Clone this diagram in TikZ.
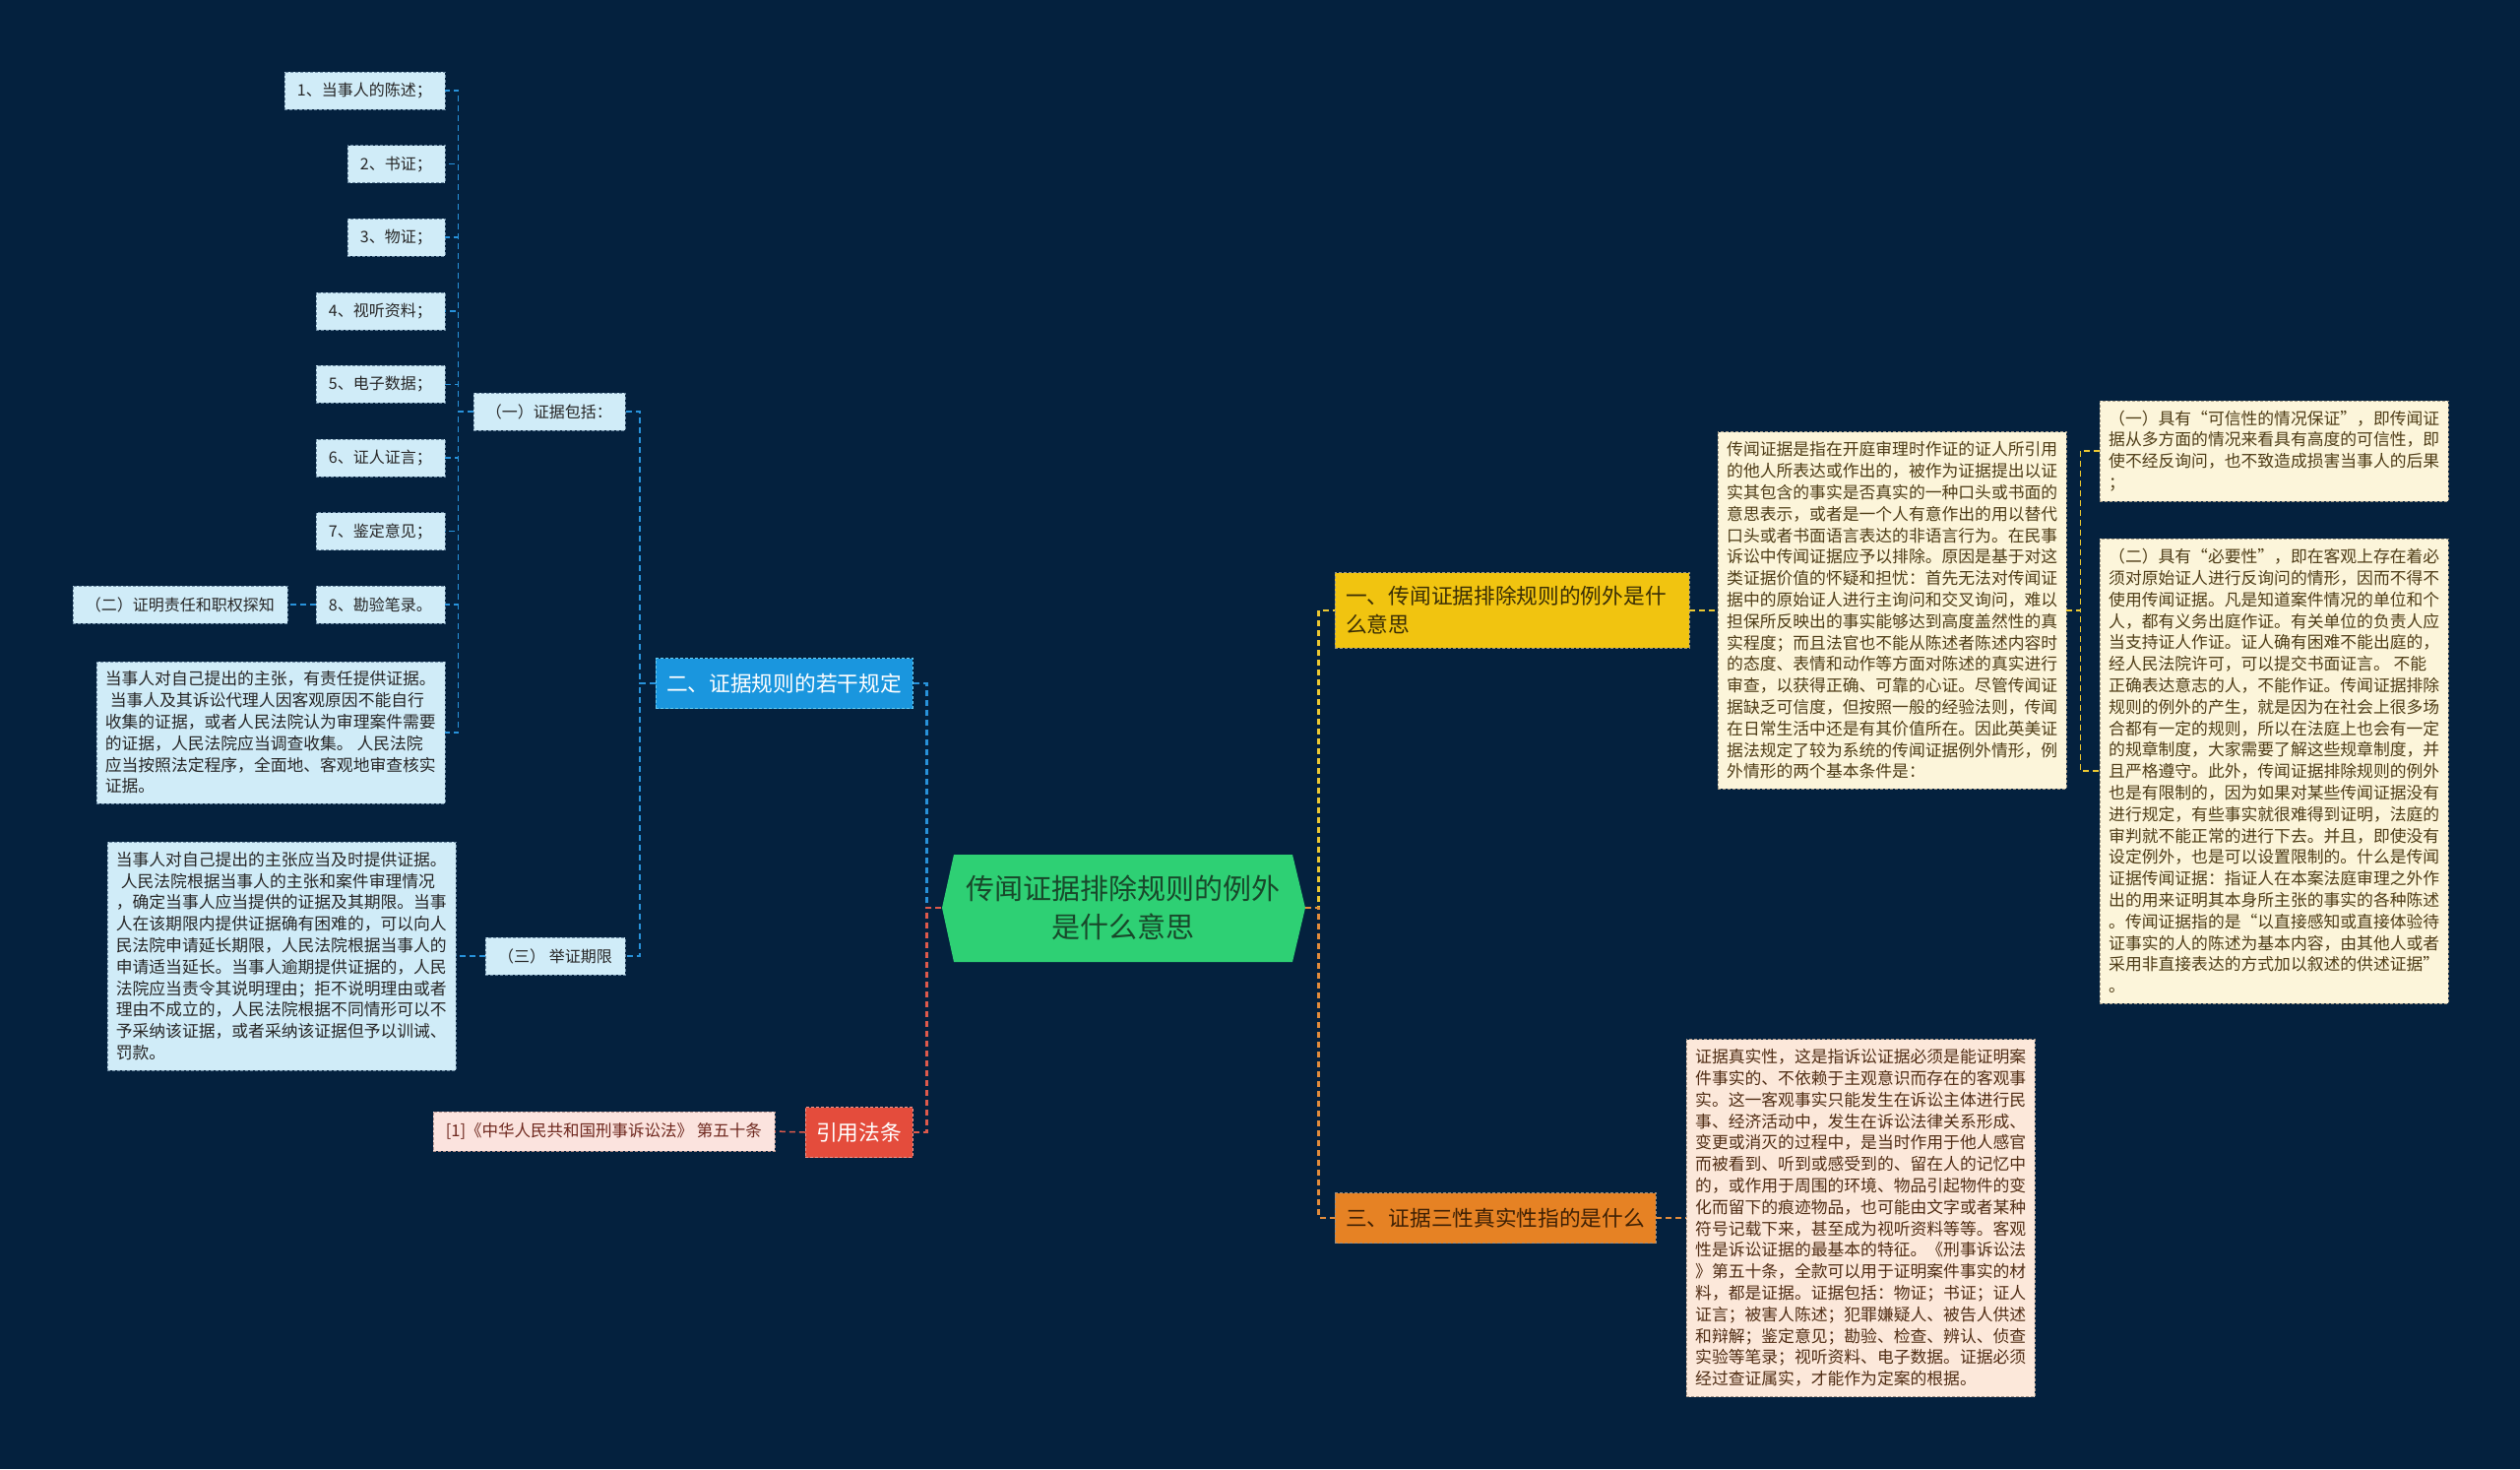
\documentclass[tikz,border=0pt]{standalone}
\usepackage{fontspec}
\setmainfont{Noto Sans CJK SC}
\usepackage{tikz}
\usetikzlibrary{positioning}
\definecolor{bgnavy}{RGB}{4,33,62}
\definecolor{leafblue}{RGB}{208,236,248}
\definecolor{leafedge}{RGB}{110,140,165}
\definecolor{linkblue}{RGB}{40,146,218}
\definecolor{branchblue}{RGB}{26,150,222}
\definecolor{rootgreen}{RGB}{46,208,116}
\definecolor{rootink}{RGB}{24,72,42}
\definecolor{lawred}{RGB}{228,76,60}
\definecolor{refpink}{RGB}{251,227,222}
\definecolor{refink}{RGB}{110,40,30}
\definecolor{oneyellow}{RGB}{241,196,16}
\definecolor{oneink}{RGB}{58,46,5}
\definecolor{creambox}{RGB}{252,245,218}
\definecolor{creamink}{RGB}{78,60,22}
\definecolor{threeorange}{RGB}{230,130,36}
\definecolor{threeink}{RGB}{62,32,4}
\definecolor{peachbox}{RGB}{252,232,218}
\definecolor{peachink}{RGB}{80,45,20}
\definecolor{linkyellow}{RGB}{236,200,50}
\definecolor{linkorange}{RGB}{226,140,60}
\definecolor{linkred}{RGB}{222,90,76}

\begin{document}
\begin{tikzpicture}[x=1pt,y=-1pt,
  leaf/.style={draw=leafedge,dash pattern=on 3pt off 2pt,fill=leafblue,text=black!85,
    font=\fontsize{16pt}{20pt}\selectfont,inner xsep=13pt,inner ysep=0pt,minimum height=38pt},
  leafnote/.style={draw=leafedge,dash pattern=on 3pt off 2pt,fill=leafblue,text=black!85,
    font=\fontsize{16.8pt}{21.8pt}\selectfont,align=left,inner xsep=9pt,inner ysep=10pt},
  creamnote/.style={leafnote,fill=creambox,draw=creamink!50,text=creamink},
  peachnote/.style={leafnote,fill=peachbox,draw=peachink!50,text=peachink},
  branch/.style={dash pattern=on 3pt off 2pt,font=\fontsize{21.7pt}{29pt}\selectfont,
    inner xsep=11pt,inner ysep=0pt,minimum height=51pt},
  sublink/.style={line width=1.5pt,dash pattern=on 6pt off 4pt},
  mainlink/.style={line width=2.5pt,dash pattern=on 6pt off 4pt}]
  \path[use as bounding box,fill=bgnavy] (0,0) rectangle (2560,1492);

  \fill[rootgreen] (969,868) -- (1313,868) -- (1326,922) -- (1313,977) -- (969,977) -- (957,922) -- cycle;
  \node[text=rootink,font=\fontsize{29pt}{39pt}\selectfont,align=center,
    minimum width=369pt,minimum height=109pt,inner sep=0pt] (root) at (1141,922)
    {传闻证据排除规则的例外\\是什么意思};

  \node[branch,fill=branchblue,draw=cyan!60,text=white,anchor=east] (two) at (927,694) {二、证据规则的若干规定};
  \node[leaf,anchor=east] (inc) at (635,418) {（一）证据包括：};
  \node[leaf,anchor=east] (term) at (635,971) {（三） 举证期限};
  \node[leaf,anchor=east] (b1) at (452,92) {1、当事人的陈述；};
  \node[leaf,anchor=east] (b2) at (452,166.6) {2、书证；};
  \node[leaf,anchor=east] (b3) at (452,241.2) {3、物证；};
  \node[leaf,anchor=east] (b4) at (452,315.8) {4、视听资料；};
  \node[leaf,anchor=east] (b5) at (452,390.4) {5、电子数据；};
  \node[leaf,anchor=east] (b6) at (452,465) {6、证人证言；};
  \node[leaf,anchor=east] (b7) at (452,539.6) {7、鉴定意见；};
  \node[leaf,anchor=east] (b8) at (452,614.2) {8、勘验笔录。};
  \node[leaf,anchor=east] (proof) at (292,614.2) {（二）证明责任和职权探知};
  \node[leafnote,anchor=east] (duty) at (452,744) {当事人对自己提出的主张，有责任提供证据。\\
    \hspace*{5pt}当事人及其诉讼代理人因客观原因不能自行\\
    收集的证据，或者人民法院认为审理案件需要\\
    的证据，人民法院应当调查收集。 人民法院\\
    应当按照法定程序，全面地、客观地审查核实\\
    证据。};
  \node[leafnote,anchor=east] (limit) at (463,971) {当事人对自己提出的主张应当及时提供证据。\\
    \hspace*{5pt}人民法院根据当事人的主张和案件审理情况\\
    ，确定当事人应当提供的证据及其期限。当事\\
    人在该期限内提供证据确有困难的，可以向人\\
    民法院申请延长期限，人民法院根据当事人的\\
    申请适当延长。当事人逾期提供证据的，人民\\
    法院应当责令其说明理由；拒不说明理由或者\\
    理由不成立的，人民法院根据不同情形可以不\\
    予采纳该证据，或者采纳该证据但予以训诫、\\
    罚款。};

  \node[branch,fill=lawred,draw=lawred!60!white,text=white,anchor=east] (law) at (927,1150) {引用法条};
  \node[leaf,fill=refpink,draw=refink!50,text=refink,font=\fontsize{16.5pt}{20pt}\selectfont,
    minimum height=40pt,anchor=east] (ref) at (787,1149) {[1]《中华人民共和国刑事诉讼法》 第五十条};

  \node[branch,fill=oneyellow,draw=oneink!50,text=oneink,align=left,text width=338pt,
    inner ysep=14pt,anchor=west] (one) at (1356,620) {一、传闻证据排除规则的例外是什\\么意思};
  \node[creamnote,anchor=west] (hearsay) at (1745,620) {传闻证据是指在开庭审理时作证的证人所引用\\
    的他人所表达或作出的，被作为证据提出以证\\
    实其包含的事实是否真实的一种口头或书面的\\
    意思表示，或者是一个人有意作出的用以替代\\
    口头或者书面语言表达的非语言行为。在民事\\
    诉讼中传闻证据应予以排除。原因是基于对这\\
    类证据价值的怀疑和担忧：首先无法对传闻证\\
    据中的原始证人进行主询问和交叉询问，难以\\
    担保所反映出的事实能够达到高度盖然性的真\\
    实程度；而且法官也不能从陈述者陈述内容时\\
    的态度、表情和动作等方面对陈述的真实进行\\
    审查，以获得正确、可靠的心证。尽管传闻证\\
    据缺乏可信度，但按照一般的经验法则，传闻\\
    在日常生活中还是有其价值所在。因此英美证\\
    据法规定了较为系统的传闻证据例外情形，例\\
    外情形的两个基本条件是：};
  \node[creamnote,anchor=west] (trust) at (2133,458) {（一）具有“可信性的情况保证”，即传闻证\\
    据从多方面的情况来看具有高度的可信性，即\\
    使不经反询问，也不致造成损害当事人的后果\\
    ；};
  \node[creamnote,anchor=west] (need) at (2133,783) {（二）具有“必要性”，即在客观上存在着必\\
    须对原始证人进行反询问的情形，因而不得不\\
    使用传闻证据。凡是知道案件情况的单位和个\\
    人，都有义务出庭作证。有关单位的负责人应\\
    当支持证人作证。证人确有困难不能出庭的，\\
    经人民法院许可，可以提交书面证言。 不能\\
    正确表达意志的人，不能作证。传闻证据排除\\
    规则的例外的产生，就是因为在社会上很多场\\
    合都有一定的规则，所以在法庭上也会有一定\\
    的规章制度，大家需要了解这些规章制度，并\\
    且严格遵守。此外，传闻证据排除规则的例外\\
    也是有限制的，因为如果对某些传闻证据没有\\
    进行规定，有些事实就很难得到证明，法庭的\\
    审判就不能正常的进行下去。并且，即使没有\\
    设定例外，也是可以设置限制的。什么是传闻\\
    证据传闻证据：指证人在本案法庭审理之外作\\
    出的用来证明其本身所主张的事实的各种陈述\\
    。传闻证据指的是“以直接感知或直接体验待\\
    证事实的人的陈述为基本内容，由其他人或者\\
    采用非直接表达的方式加以叙述的供述证据”\\
    。};

  \node[branch,fill=threeorange,draw=threeink!50,text=threeink,anchor=west] (three) at (1356,1237) {三、证据三性真实性指的是什么};
  \node[peachnote,anchor=west] (truth) at (1713,1237) {证据真实性，这是指诉讼证据必须是能证明案\\
    件事实的、不依赖于主观意识而存在的客观事\\
    实。这一客观事实只能发生在诉讼主体进行民\\
    事、经济活动中，发生在诉讼法律关系形成、\\
    变更或消灭的过程中，是当时作用于他人感官\\
    而被看到、听到或感受到的、留在人的记忆中\\
    的，或作用于周围的环境、物品引起物件的变\\
    化而留下的痕迹物品，也可能由文字或者某种\\
    符号记载下来，甚至成为视听资料等等。客观\\
    性是诉讼证据的最基本的特征。《刑事诉讼法\\
    》第五十条，全款可以用于证明案件事实的材\\
    料，都是证据。证据包括：物证；书证；证人\\
    证言；被害人陈述；犯罪嫌疑人、被告人供述\\
    和辩解；鉴定意见；勘验、检查、辨认、侦查\\
    实验等笔录；视听资料、电子数据。证据必须\\
    经过查证属实，才能作为定案的根据。};

  \draw[mainlink,linkblue] (root.west) -- ++(-15,0) |- (two.east);
  \draw[mainlink,linkred] (root.west) -- ++(-15,0) |- (law.east);
  \draw[mainlink,linkyellow] (root.east) -- ++(14,0) |- (one.west);
  \draw[mainlink,linkorange] (root.east) -- ++(14,0) |- (three.west);

  \draw[sublink,linkblue] (two.west) -- ++(-16,0) |- (inc.east);
  \draw[sublink,linkblue] (two.west) -- ++(-16,0) |- (term.east);
  \draw[sublink,linkblue] (inc.west) -- ++(-15,0) |- (b1.east);
  \draw[sublink,linkblue] (inc.west) -- ++(-15,0) |- (b2.east);
  \draw[sublink,linkblue] (inc.west) -- ++(-15,0) |- (b3.east);
  \draw[sublink,linkblue] (inc.west) -- ++(-15,0) |- (b4.east);
  \draw[sublink,linkblue] (inc.west) -- ++(-15,0) |- (b5.east);
  \draw[sublink,linkblue] (inc.west) -- ++(-15,0) |- (b6.east);
  \draw[sublink,linkblue] (inc.west) -- ++(-15,0) |- (b7.east);
  \draw[sublink,linkblue] (inc.west) -- ++(-15,0) |- (b8.east);
  \draw[sublink,linkblue] (inc.west) -- ++(-15,0) |- (duty.east);
  \draw[sublink,linkblue] (b8.west) -- (proof.east);
  \draw[sublink,linkblue] (term.west) -- (limit.east);
  \draw[sublink,linkred] (law.west) -- (ref.east);

  \draw[sublink,linkyellow] (one.east) -- (hearsay.west);
  \draw[sublink,linkyellow] (hearsay.east) -- ++(14,0) |- (trust.west);
  \draw[sublink,linkyellow] (hearsay.east) -- ++(14,0) |- (need.west);
  \draw[sublink,linkorange] (three.east) -- (truth.west);
\end{tikzpicture}
\end{document}
